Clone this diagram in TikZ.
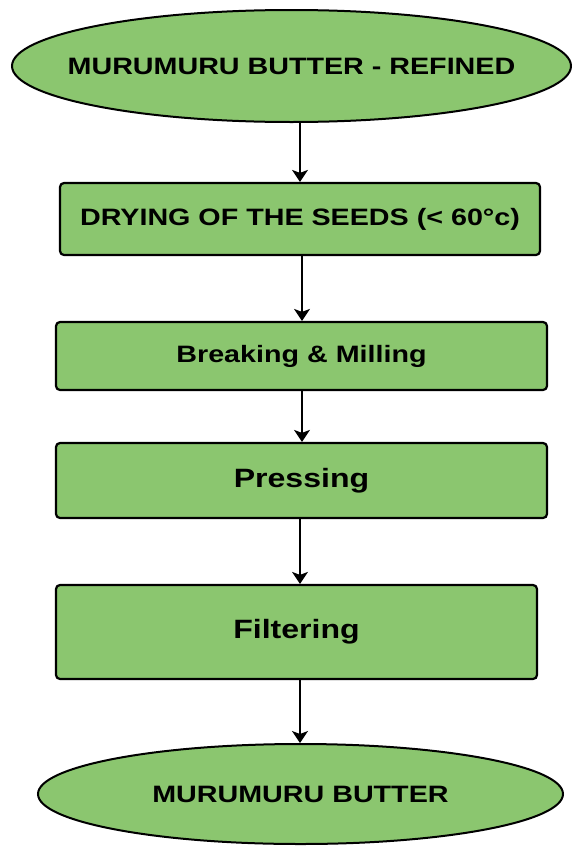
\documentclass[tikz,border=0pt]{standalone}
\usepackage{fontspec}
\usepackage{graphicx}
\setmainfont{Liberation Sans}
\usetikzlibrary{shapes.geometric,arrows.meta}
\definecolor{boxgreen}{RGB}{139,198,111}
\tikzset{
  stepbox/.style={draw=black, line width=2.2pt, fill=boxgreen, rounded corners=4pt, inner sep=0pt, anchor=center},
  endcap/.style={ellipse, draw=black, line width=2pt, fill=boxgreen, inner sep=0pt, anchor=center},
  flow/.style={draw=black, line width=1.4pt, -{Stealth[length=12pt,width=16pt,inset=3pt]}},
  txtA/.style={font=\bfseries\fontsize{23.7}{28}\selectfont},
  txtB/.style={font=\bfseries\fontsize{26.5}{30}\selectfont}
}
\newcommand{\wide}[1]{\scalebox{1.21}[1]{#1}}
\newcommand{\nowidth}[1]{\makebox[0pt][c]{#1}}
\begin{document}
\begin{tikzpicture}[x=1pt,y=-1pt]
\useasboundingbox (0,0) rectangle (572,846);
\node[endcap, txtA, minimum width=559pt, minimum height=112pt] (e1) at (291.5,66) {\nowidth{\wide{MURUMURU BUTTER - REFINED}}};
\node[stepbox, txtA, minimum width=480pt, minimum height=72pt] (b1) at (300,219) {\wide{DRYING OF THE SEEDS (< 60°c)}};
\node[stepbox, txtA, minimum width=491pt, minimum height=68pt] (b2) at (301.5,356) {\wide{Breaking \& Milling}};
\node[stepbox, txtB, minimum width=491pt, minimum height=75pt] (b3) at (301.5,480.5) {\wide{Pressing}};
\node[stepbox, txtB, minimum width=481pt, minimum height=94pt] (b4) at (296.5,632) {\wide{Filtering}};
\node[endcap, txtA, minimum width=525pt, minimum height=100pt] (e2) at (300.5,794) {\nowidth{\wide{MURUMURU BUTTER}}};
\coordinate (ax) at (300,0);
\coordinate (ay) at (302,0);
\draw[flow] (e1.south -| ax) -- (b1.north -| ax);
\draw[flow] (b1.south -| ay) -- (b2.north -| ay);
\draw[flow] (b2.south -| ay) -- (b3.north -| ay);
\draw[flow] (b3.south -| ax) -- (b4.north -| ax);
\draw[flow] (b4.south -| ax) -- (e2.north -| ax);
\end{tikzpicture}
\end{document}
